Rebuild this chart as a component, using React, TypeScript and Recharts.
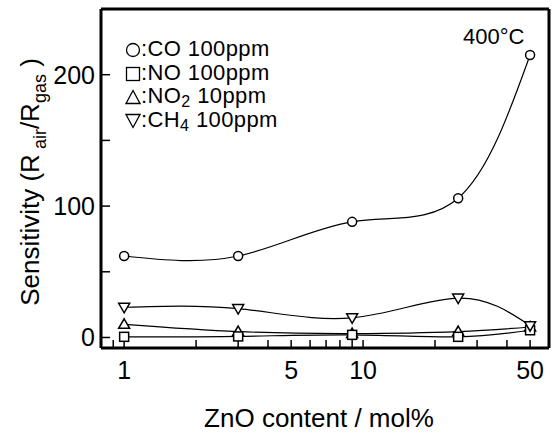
import { LineChart, Line, XAxis, YAxis } from 'recharts';

// ZnO content (mol%) and sensitivity for each gas at 400°C
const zno = [1, 3, 9, 25, 50];
const co = [62, 62, 88, 106, 215];
const no = [0.5, 0.8, 2, 0.5, 5.5];
const no2 = [10, 4.5, 3, 4.5, 8];
const ch4 = [23, 22, 15, 30, 9];

const xTicks = [0.9, 1, 2, 3, 4, 5, 6, 7, 8, 9, 10, 20, 30, 40, 50];
const xLabels = [1, 5, 10, 50];
const yTicks = [0, 50, 100, 150, 200];
const yLabels = [0, 100, 200];

const data = zno.map((x, i) => ({ x, co: co[i], no: no[i], no2: no2[i], ch4: ch4[i] }));

const FONT = '"Liberation Sans", Arial, sans-serif';
const mk = { fill: '#fff', stroke: '#000', strokeWidth: 1.5 };

const CircleDot = (p: any) => <circle key={p.index} cx={p.cx} cy={p.cy} r={4.5} {...mk} />;
const SquareDot = (p: any) => (
  <rect key={p.index} x={p.cx - 4.5} y={p.cy - 4.5} width={9} height={9} {...mk} />
);
const UpDot = (p: any) => (
  <path key={p.index} d={`M${p.cx},${p.cy - 5.5}L${p.cx + 5.5},${p.cy + 4}L${p.cx - 5.5},${p.cy + 4}Z`} {...mk} />
);
const DownDot = (p: any) => (
  <path key={p.index} d={`M${p.cx},${p.cy + 5.5}L${p.cx + 5.5},${p.cy - 4}L${p.cx - 5.5},${p.cy - 4}Z`} {...mk} />
);

const YTitle = () => (
  <text
    x={30}
    y={182}
    transform="rotate(-90, 30, 182)"
    textAnchor="middle"
    dominantBaseline="central"
    fontSize={26}
    fill="#000"
  >
    Sensitivity (R
    <tspan baselineShift="sub" fontSize={18}> air</tspan>
    <tspan baselineShift="0">/R</tspan>
    <tspan baselineShift="sub" fontSize={18}>gas</tspan>
    <tspan baselineShift="0"> )</tspan>
  </text>
);

const XTitle = () => (
  <text x={319} y={427} textAnchor="middle" fontSize={26} fill="#000">
    ZnO content / mol%
  </text>
);

const icon = (shape: string) => {
  let el;
  if (shape === 'c') el = <circle cx={8} cy={8} r={6.5} fill="none" stroke="#000" strokeWidth={1.3} />;
  else if (shape === 's') el = <rect x={1.5} y={1.5} width={13} height={13} fill="none" stroke="#000" strokeWidth={1.3} />;
  else if (shape === 'u') el = <path d="M8,1.5L15,14.5L1,14.5Z" fill="none" stroke="#000" strokeWidth={1.3} />;
  else el = <path d="M8,14.5L15,1.5L1,1.5Z" fill="none" stroke="#000" strokeWidth={1.3} />;
  return (
    <svg width={16} height={16} style={{ verticalAlign: '-2px' }}>
      {el}
    </svg>
  );
};

const sub = { fontSize: 16, verticalAlign: '-4px', lineHeight: 0 };
const legendRows = [
  { s: 'c', t: <>:CO 100ppm</> },
  { s: 's', t: <>:NO 100ppm</> },
  { s: 'u', t: <>:NO<sub style={sub}>2</sub> 10ppm</> },
  { s: 'd', t: <>:CH<sub style={sub}>4</sub> 100ppm</> },
];

export default function App() {
  return (
    <div style={{ position: 'absolute', left: 0, top: 0, width: 555, height: 435, background: '#fff', fontFamily: FONT }}>
      <LineChart
        width={555}
        height={435}
        data={data}
        margin={{ top: 8, right: 5, left: 0, bottom: 0 }}
        style={{ fontFamily: FONT }}
      >
        <XAxis
          dataKey="x"
          type="number"
          scale="log"
          domain={[0.8, 60]}
          allowDataOverflow
          ticks={xTicks}
          interval={0}
          tickFormatter={(v: number) => (xLabels.includes(v) ? String(v) : '')}
          height={87}
          tickSize={-8}
          tickMargin={21}
          axisLine={{ stroke: '#000', strokeWidth: 3 }}
          tickLine={{ stroke: '#000', strokeWidth: 1.5 }}
          tick={{ fontSize: 25, fill: '#000' }}
          label={<XTitle />}
        />
        <XAxis
          xAxisId="top"
          orientation="top"
          dataKey="x"
          type="number"
          scale="log"
          domain={[0.8, 60]}
          allowDataOverflow
          ticks={xTicks}
          interval={0}
          height={1}
          tickSize={-8}
          tick={false}
          axisLine={{ stroke: '#000', strokeWidth: 3 }}
          tickLine={{ stroke: '#000', strokeWidth: 1.5 }}
        />
        <YAxis
          type="number"
          domain={[-8, 250]}
          allowDataOverflow
          ticks={yTicks}
          interval={0}
          tickFormatter={(v: number) => (yLabels.includes(v) ? String(v) : '')}
          width={101}
          tickSize={-9}
          tickMargin={15}
          axisLine={{ stroke: '#000', strokeWidth: 3 }}
          tickLine={{ stroke: '#000', strokeWidth: 1.5 }}
          tick={{ fontSize: 25, fill: '#000' }}
          label={<YTitle />}
        />
        <YAxis
          yAxisId="right"
          orientation="right"
          type="number"
          domain={[-8, 250]}
          allowDataOverflow
          ticks={yTicks}
          interval={0}
          width={1}
          tickSize={-9}
          tick={false}
          axisLine={{ stroke: '#000', strokeWidth: 3 }}
          tickLine={{ stroke: '#000', strokeWidth: 1.5 }}
        />
        {/* invisible series so the mirrored top/right axes get drawn */}
        <Line xAxisId="top" yAxisId="right" dataKey="co" stroke="none" dot={false} activeDot={false} isAnimationActive={false} />
        <Line dataKey="no2" type="natural" stroke="#000" strokeWidth={1.2} dot={UpDot} activeDot={false} isAnimationActive={false} />
        <Line dataKey="no" type="natural" stroke="#000" strokeWidth={1.2} dot={SquareDot} activeDot={false} isAnimationActive={false} />
        <Line dataKey="ch4" type="natural" stroke="#000" strokeWidth={1.2} dot={DownDot} activeDot={false} isAnimationActive={false} />
        <Line dataKey="co" type="natural" stroke="#000" strokeWidth={1.2} dot={CircleDot} activeDot={false} isAnimationActive={false} />
      </LineChart>
      <div style={{ position: 'absolute', left: 125, top: 37, fontSize: 22, lineHeight: '23.5px', letterSpacing: 0.4, color: '#000' }}>
        {legendRows.map((r, i) => (
          <div key={i} style={{ whiteSpace: 'nowrap' }}>
            {icon(r.s)}
            {r.t}
          </div>
        ))}
      </div>
      <div style={{ position: 'absolute', left: 463, top: 24, fontSize: 22, color: '#000', whiteSpace: 'nowrap' }}>
        400°C
      </div>
    </div>
  );
}
